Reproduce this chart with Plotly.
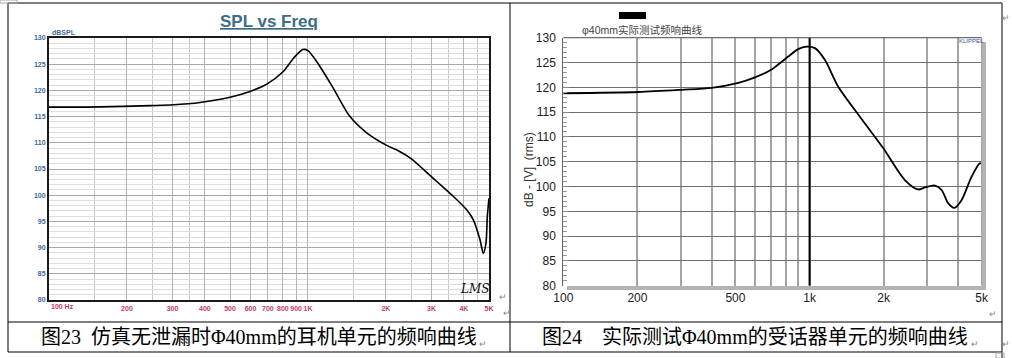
import math
import plotly.graph_objects as go

W, H = 1012, 358

# ---------------- data ----------------
sim_freq = [100, 157, 245, 302, 383, 500, 597, 693, 803, 878, 955, 1000, 1080, 1253, 1453,
            1686, 2013, 2250, 2500, 2750, 3047, 3350, 3639, 4100, 4350, 4616, 4753, 4868, 4925, 5000]
sim_spl = [116.8, 116.85, 117.1, 117.25, 117.7, 118.7, 119.8, 121.2, 123.6, 126.1, 127.8, 127.6, 125.5, 120.4, 115.0,
           111.9, 109.5, 108.4, 107.0, 105.2, 103.2, 101.4, 99.8, 97.2, 95.3, 91.5, 88.9, 90.9, 95.9, 99.4]

meas_freq = [100, 202, 302, 400, 514, 600, 701, 819, 899, 973, 1052, 1155, 1308, 1627, 1993,
             2438, 2761, 2942, 3230, 3437, 3658, 3870, 4146, 4550, 4920, 5000]
meas_db = [118.8, 119.05, 119.5, 119.9, 120.9, 122.0, 123.6, 126.2, 127.7, 128.2, 127.9, 125.5, 120.1, 113.6, 107.7,
           101.3, 99.4, 99.8, 100.2, 99.3, 96.6, 95.7, 97.3, 102.0, 104.7, 104.5]

left_xticks = [100, 200, 300, 400, 500, 600, 700, 800, 900, 1000, 2000, 3000, 4000, 5000]
left_xlabels = ["", "200", "300", "400", "500", "600", "700", "800", "900", "1K", "2K", "3K", "4K", "5K"]
left_xminor = [150, 250, 350, 1500, 2500, 3500, 4500]
right_xticks = [100, 200, 500, 1000, 2000, 5000]
right_xlabels = ["100", "200", "500", "1k", "2k", "5k"]
right_xminor = [300, 400, 600, 700, 800, 900, 3000, 4000]
y_ticks = [80, 85, 90, 95, 100, 105, 110, 115, 120, 125, 130]

caption_left = "图23\u00a0\u00a0仿真无泄漏时Φ40mm的耳机单元的频响曲线"
caption_right = "图24\u00a0\u00a0\u00a0\u00a0实际测试Φ40mm的受话器单元的频响曲线"
title_left = "SPL vs Freq"
title_right = "φ40mm实际测试频响曲线"


def px(x):
    return x / W


def py(y):
    return 1 - y / H


fig = go.Figure()

fig.add_trace(go.Scatter(x=sim_freq, y=sim_spl, mode="lines", line=dict(color="black", width=1.6, shape="spline", smoothing=0.8),
                         xaxis="x", yaxis="y", hoverinfo="skip"))
fig.add_trace(go.Scatter(x=[1000, 1000], y=[80, 130], mode="lines", line=dict(color="black", width=2),
                         xaxis="x2", yaxis="y2", hoverinfo="skip"))
fig.add_trace(go.Scatter(x=meas_freq, y=meas_db, mode="lines", line=dict(color="black", width=1.8, shape="spline", smoothing=0.8),
                         xaxis="x2", yaxis="y2", hoverinfo="skip"))

lx0, lx1, ly0, ly1 = 49, 489, 38, 300
rx0, rx1, ry0, ry1 = 563.3, 981.7, 37.7, 285.7

xr = [2, math.log10(5000)]

fig.update_layout(
    width=W, height=H, margin=dict(l=0, r=0, t=0, b=0, pad=0, autoexpand=False),
    paper_bgcolor="white", plot_bgcolor="white", showlegend=False,
    xaxis=dict(domain=[px(lx0), px(lx1)], type="log", range=xr, anchor="y", automargin=False,
               tickvals=left_xticks, ticktext=["<b>%s</b>" % t for t in left_xlabels], tickangle=0,
               tickfont=dict(size=7, color="#c8386a", family="Arial"), ticklabelstandoff=1,
               showgrid=True, gridcolor="#b4b4b4", gridwidth=1, ticks="",
               minor=dict(tickvals=left_xminor, showgrid=True, gridcolor="#c8c8c8", ticks=""),
               showline=True, linewidth=2, linecolor="#1a1a1a", mirror=True, zeroline=False),
    yaxis=dict(domain=[py(ly1), py(ly0)], range=[80, 130], anchor="x", automargin=False,
               tickvals=y_ticks, ticktext=["<b>%d</b>" % v for v in y_ticks],
               tickfont=dict(size=7, color="#3d6a9e", family="Arial"),
               showgrid=True, gridcolor="#a8a8a8", gridwidth=1, ticks="",
               minor=dict(dtick=1, showgrid=True, gridcolor="#dedede", ticks=""),
               showline=True, linewidth=2, linecolor="#1a1a1a", mirror=True, zeroline=False),
    xaxis2=dict(domain=[px(rx0), px(rx1)], type="log", range=xr, anchor="y2", automargin=False,
                tickvals=right_xticks, ticktext=right_xlabels, tickangle=0,
                tickfont=dict(size=12, color="#222222", family="Arial"), ticklabelstandoff=3,
                showgrid=True, gridcolor="#a4a4a4", gridwidth=1.5, ticks="",
                minor=dict(tickvals=right_xminor, showgrid=True, gridcolor="#a4a4a4", gridwidth=1.5, ticks=""),
                showline=False, zeroline=False),
    yaxis2=dict(domain=[py(ry1), py(ry0)], range=[80, 130], anchor="x2", automargin=False,
                tickvals=y_ticks, tickfont=dict(size=12, color="#222222", family="Arial"),
                showgrid=True, gridcolor="#6e6e6e", gridwidth=1.3, ticklabelstandoff=4,
                ticks="inside", ticklen=6, tickcolor="#888888",
                minor=dict(dtick=1, ticks="inside", ticklen=4, tickcolor="#999999", showgrid=False),
                showline=True, linewidth=1, linecolor="#666666", zeroline=False),
)

shapes = []
# table frame
line = dict(color="black", width=1)
for (x0, y0, x1, y1) in [(8, 3, 1002, 3), (8, 3, 8, 352), (510, 3, 510, 352), (1002, 3, 1002, 358),
                         (8, 322, 1002, 322), (8, 352, 1002, 352)]:
    shapes.append(dict(type="line", xref="paper", yref="paper", x0=px(x0), y0=py(y0), x1=px(x1), y1=py(y1), line=line))
shapes.append(dict(type="rect", xref="paper", yref="paper", x0=px(0), y0=py(0), x1=px(17), y1=py(3),
                   line=dict(color="#aaaaaa", width=1)))
shapes.append(dict(type="rect", xref="paper", yref="paper", x0=px(996), y0=py(353), x1=px(1004), y1=py(358),
                   line=dict(color="#aaaaaa", width=1)))
# shadow on right plot
shapes.append(dict(type="rect", xref="paper", yref="paper", x0=px(982), y0=py(42), x1=px(986), y1=py(290),
                   line=dict(width=0), fillcolor="#b4b4b4", layer="below"))
shapes.append(dict(type="rect", xref="paper", yref="paper", x0=px(567), y0=py(286), x1=px(986), y1=py(290),
                   line=dict(width=0), fillcolor="#b4b4b4", layer="below"))
# top / right border of right plot
shapes.append(dict(type="line", xref="paper", yref="paper", x0=px(rx0), y0=py(ry0), x1=px(rx1), y1=py(ry0),
                   line=dict(color="#6e6e6e", width=1.3)))
shapes.append(dict(type="line", xref="paper", yref="paper", x0=px(rx1), y0=py(ry0), x1=px(rx1), y1=py(ry1),
                   line=dict(color="#a4a4a4", width=1.3)))
# redaction box
shapes.append(dict(type="rect", xref="paper", yref="paper", x0=px(619), y0=py(12), x1=px(646), y1=py(19),
                   line=dict(width=0), fillcolor="black"))
fig.update_layout(shapes=shapes)

ann = []


def a(x, y, text, size, color, family="Arial", xanchor="center", yanchor="middle", angle=0):
    ann.append(dict(xref="paper", yref="paper", x=px(x), y=py(y), text=text, showarrow=False,
                    font=dict(size=size, color=color, family=family), xanchor=xanchor, yanchor=yanchor,
                    textangle=angle))


a(269, 22, "<b><u>%s</u></b>" % title_left, 17, "#3c6e8c")
a(50, 32, "<b>dBSPL</b>", 7, "#3d6a9e", xanchor="left")
a(49, 306, "<b>100 Hz</b>", 7, "#c8386a", xanchor="left")
a(474, 289, "<i>LMS</i>", 12, "#111111", family="DejaVu Serif")
a(580, 30, title_right, 10.5, "#444444", family="Arial, Noto Sans CJK SC", xanchor="left")
a(971, 41, "KLIPPEL", 6, "#3050a0")
a(529, 170, "dB - [V]\u00a0\u00a0(rms)", 12, "#333333", angle=-90)
a(259, 337, caption_left, 20, "black", family="Liberation Serif, Noto Sans CJK SC")
a(755, 337, caption_right, 20, "black", family="Liberation Serif, Noto Sans CJK SC")
for (x, y) in [(503, 297), (1006, 18), (993, 314), (1006, 344), (483, 344), (975, 344), (507, 313)]:
    a(x, y, "↵", 9, "#888888")
fig.update_layout(annotations=ann)

fig.write_html("out.html", config={"displayModeBar": False},
               post_script="document.body.style.margin='0';document.body.style.padding='0';")
